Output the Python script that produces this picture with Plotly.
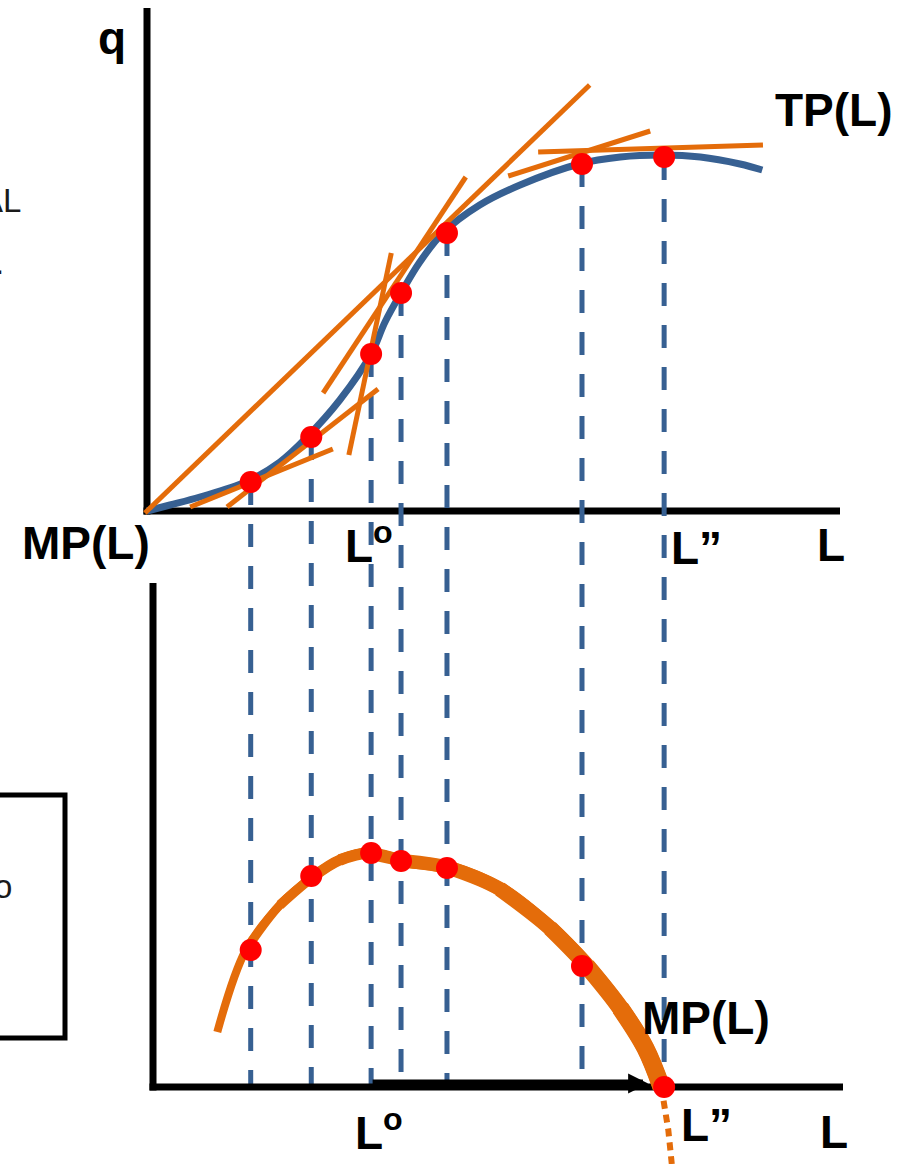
import plotly.graph_objects as go

# ---------------- data ----------------
# labour levels marked on both panels (dots + dashed guides)
L_marks = [1.49, 2.36, 3.22, 3.65, 4.31, 6.25, 7.43]
TP_marks = [0.58, 1.48, 3.14, 4.36, 5.56, 6.94, 7.08]
MP_marks = [2.74, 4.22, 4.68, 4.52, 4.38, 2.42, 0.0]

# total product curve TP(L)
tp_L = [0.0, 0.33, 0.76, 1.42, 1.91, 2.30, 2.77, 3.22, 3.42, 3.65, 3.92,
        4.25, 4.78, 5.36, 6.21, 6.80, 7.40, 7.95, 8.52, 8.84]
tp_q = [0.0, 0.12, 0.28, 0.58, 0.98, 1.48, 2.22, 3.14, 3.78, 4.36, 4.98,
        5.56, 6.12, 6.52, 6.94, 7.08, 7.12, 7.08, 6.94, 6.82]

# tangent segments to TP (start / end points)
tan_L0 = [0.62, 1.15, 2.90, 2.53, -0.03, 5.19, 5.62]
tan_q0 = [0.08, 0.08, 1.12, 2.36, -0.04, 6.70, 7.18]
tan_L1 = [2.67, 3.32, 3.51, 4.58, 6.36, 7.23, 8.85]
tan_q1 = [1.24, 2.44, 5.16, 6.68, 8.52, 7.60, 7.32]

# marginal product curve MP(L)
mp_L = [1.01, 1.42, 1.91, 2.40, 2.77, 3.18, 3.71, 4.35, 5.07, 5.79,
        6.32, 6.80, 7.16, 7.39]
mp_v = [1.10, 2.74, 3.64, 4.22, 4.54, 4.68, 4.52, 4.38, 3.96, 3.18,
        2.42, 1.58, 0.78, 0.0]
# negative continuation past L''
mp_ext_L = [7.39, 7.49, 7.54]
mp_ext_v = [0.0, -0.86, -1.54]

# arrow along the L axis from L° towards L''
arrow_from_L = 3.22
arrow_to_L = 7.20

# ---------------- layout calibration ----------------
W, H = 898, 1164
PX_L = 69.6        # pixels per unit of L
PX_Q = 50.0        # pixels per unit of q / MP
X0 = 147           # pixel column of L = 0
TOP_Y0 = 511       # pixel row of q = 0
BOT_Y0 = 1087      # pixel row of MP = 0

x_dom_px = (100, W)
L_range = [(x_dom_px[0] - X0) / PX_L, (x_dom_px[1] - X0) / PX_L]

top_dom_px = (0, BOT_Y0)           # top panel reaches down to the lower axis
q_range = [(TOP_Y0 - top_dom_px[1]) / PX_Q, (TOP_Y0 - top_dom_px[0]) / PX_Q]

bot_dom_px = (560, H)
mp_range = [(BOT_Y0 - bot_dom_px[1]) / PX_Q, (BOT_Y0 - bot_dom_px[0]) / PX_Q]

ORANGE = "#E46C0A"
BLUE = "#376092"
RED = "#FF0000"
FONT = "Liberation Sans, Arial, sans-serif"

fig = go.Figure()

# dashed guides from each TP point down to the MP axis
gx, gy = [], []
for L, q in zip(L_marks, TP_marks):
    gx += [L, L, None]
    gy += [q, q_range[0], None]
fig.add_trace(go.Scatter(x=gx, y=gy, mode="lines", xaxis="x", yaxis="y",
                         line=dict(color=BLUE, width=5, dash="23px,19px"),
                         hoverinfo="skip"))

# TP curve
fig.add_trace(go.Scatter(x=tp_L, y=tp_q, mode="lines", xaxis="x", yaxis="y",
                         line=dict(color=BLUE, width=7, shape="spline"),
                         hoverinfo="skip"))

# tangents
tx, ty = [], []
for a, b, c, d in zip(tan_L0, tan_q0, tan_L1, tan_q1):
    tx += [a, c, None]
    ty += [b, d, None]
fig.add_trace(go.Scatter(x=tx, y=ty, mode="lines", xaxis="x", yaxis="y",
                         line=dict(color=ORANGE, width=5), hoverinfo="skip"))

# TP points
fig.add_trace(go.Scatter(x=L_marks, y=TP_marks, mode="markers", xaxis="x", yaxis="y",
                         marker=dict(color=RED, size=22, line=dict(width=0)),
                         hoverinfo="skip"))

# MP curve, drawn in overlapping layers so that it thickens as it falls
n_layers = len(mp_L) - 2
for k in range(n_layers):
    width = 8 + 10 * k / (n_layers - 1)
    fig.add_trace(go.Scatter(x=mp_L[k:], y=mp_v[k:], mode="lines",
                             xaxis="x2", yaxis="y2",
                             line=dict(color=ORANGE, width=width, shape="spline"),
                             hoverinfo="skip"))
fig.add_trace(go.Scatter(x=mp_ext_L, y=mp_ext_v, mode="lines", xaxis="x2", yaxis="y2",
                         line=dict(color=ORANGE, width=6, dash="8px,6px"),
                         hoverinfo="skip"))

# MP points
fig.add_trace(go.Scatter(x=L_marks, y=MP_marks, mode="markers", xaxis="x2", yaxis="y2",
                         marker=dict(color=RED, size=22, line=dict(width=0)),
                         hoverinfo="skip"))

# axes drawn as thick black lines
AXW = 7
half_L = (AXW / 2) / PX_L
half_Q = (AXW / 2) / PX_Q
bot_axis_L = (153 - X0) / PX_L
shapes = [
    dict(type="line", xref="x", yref="y", x0=0, x1=0, y0=-half_Q,
         y1=(TOP_Y0 - 8) / PX_Q, line=dict(color="black", width=AXW), layer="below"),
    dict(type="line", xref="x", yref="y", x0=-half_L, x1=(840 - X0) / PX_L,
         y0=0, y1=0, line=dict(color="black", width=AXW), layer="below"),
    dict(type="line", xref="x2", yref="y2", x0=bot_axis_L, x1=bot_axis_L,
         y0=-half_Q, y1=(BOT_Y0 - 583) / PX_Q,
         line=dict(color="black", width=AXW), layer="below"),
    dict(type="line", xref="x2", yref="y2", x0=bot_axis_L - half_L,
         x1=(843 - X0) / PX_L, y0=0, y1=0,
         line=dict(color="black", width=AXW), layer="below"),
    # side box on the left
    dict(type="rect", xref="paper", yref="paper", x0=-0.05, x1=65 / W,
         y0=1 - 1038 / H, y1=1 - 795 / H, line=dict(color="black", width=5)),
]


def px(x, y):
    return x / W, 1 - y / H


annotations = []


def label(text, x, y, size=46, bold=True, anchor="center", color="black"):
    xp, yp = px(x, y)
    annotations.append(dict(
        text=f"<b>{text}</b>" if bold else text, x=xp, y=yp,
        xref="paper", yref="paper", showarrow=False, xanchor=anchor,
        yanchor="middle", font=dict(family=FONT, size=size, color=color)))


label("q", 112, 38)
label("TP(L)", 834, 110)
label("MP(L)", 86, 543)
label("L<sup>o</sup>", 369, 543)
label("L\u201d", 696, 548)
label("L", 831, 545)
label("MP(L)", 706, 1018)
label("L<sup>o</sup>", 379, 1130)
label("L\u201d", 706, 1125)
label("L", 834, 1132)
label("TOTAL", 23, 200, size=33, bold=False, anchor="right", color="#1a1a1a")
label(".", 6, 262, size=33, bold=False, anchor="right", color="#1a1a1a")
label("o", 14, 886, size=33, bold=False, anchor="right", color="#1a1a1a")

# arrow from L° to L''
annotations.append(dict(
    x=arrow_to_L, y=0.07, ax=arrow_from_L, ay=0.07,
    xref="x2", yref="y2", axref="x2", ayref="y2",
    text="", showarrow=True, arrowhead=2, arrowsize=0.5, arrowwidth=8,
    arrowcolor="black", standoff=0, startstandoff=0))

axis_common = dict(visible=False, fixedrange=True)
fig.update_layout(
    width=W, height=H,
    margin=dict(l=0, r=0, t=0, b=0),
    paper_bgcolor="white", plot_bgcolor="rgba(0,0,0,0)",
    showlegend=False,
    xaxis=dict(domain=[x_dom_px[0] / W, x_dom_px[1] / W], range=L_range,
               anchor="y", **axis_common),
    yaxis=dict(domain=[1 - top_dom_px[1] / H, 1 - top_dom_px[0] / H],
               range=q_range, anchor="x", **axis_common),
    xaxis2=dict(domain=[x_dom_px[0] / W, x_dom_px[1] / W], range=L_range,
                anchor="y2", **axis_common),
    yaxis2=dict(domain=[1 - bot_dom_px[1] / H, 1 - bot_dom_px[0] / H],
                range=mp_range, anchor="x2", **axis_common),
    shapes=shapes,
    annotations=annotations,
)

fig.write_html("out.html")
